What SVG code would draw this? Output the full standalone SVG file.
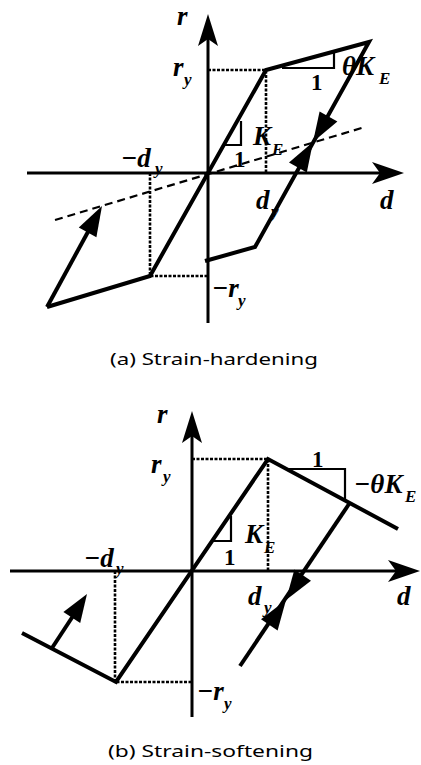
<svg xmlns="http://www.w3.org/2000/svg" width="421" height="765" viewBox="0 0 421 765">
<style>
.ax{stroke:#000;stroke-width:3;fill:none}
.cv{stroke:#000;stroke-width:4;fill:none;stroke-linejoin:miter;stroke-linecap:butt}
.dt{stroke:#000;stroke-width:2.6;fill:none;stroke-dasharray:3,1.5}
.ds{stroke:#000;stroke-width:2.2;fill:none;stroke-dasharray:8,5}
.tr{stroke:#000;stroke-width:2.2;fill:none}
.ah{fill:#000;stroke:none}
.m{font-family:"Liberation Serif","Times New Roman",serif;font-style:italic;font-weight:bold;font-size:27px;fill:#000}
.s{font-size:17px}
.n{font-family:"Liberation Serif","Times New Roman",serif;font-weight:bold;font-size:23px;fill:#000}
.cap{font-family:"Noto Sans","DejaVu Sans",sans-serif;font-size:17px;fill:#000}
</style>
<rect width="421" height="765" fill="#fff"/>

<g id="diagram-a">
  <g id="axes-a">
    <line class="ax" x1="27" y1="173" x2="398" y2="173"/>
    <path class="ah" d="M404,173 L372,162 L380,173 L372,184 Z"/>
    <line class="ax" x1="208" y1="323" x2="208" y2="22"/>
    <path class="ah" d="M208,14 L198,46 L208,39 L218,46 Z"/>
  </g>
  <g id="guides-a">
    <path class="dt" d="M208,70 H266 V173"/>
    <path class="dt" d="M150,173 V276 H208"/>
    <line class="ds" x1="55" y1="220" x2="365" y2="127"/>
    <path class="tr" d="M225,145 H241 V121"/>
    <path class="tr" d="M282,68 H334 V53"/>
  </g>
  <g id="curve-a">
    <path class="cv" d="M47,307 L150,276 L266,70 L369,42 L255,247 L205,261"/>
    <line class="cv" x1="47" y1="307" x2="89" y2="230"/>
    <path class="ah" d="M102,206 L96.4,237.2 L78.8,227.6 Z"/>
    <path class="ah" d="M313,142 L319.6,111.6 L337.4,121.4 Z"/>
    <path class="ah" d="M313,142 L306.8,172.4 L289,162.6 Z"/>
  </g>
  <g id="labels-a">
    <text class="m" x="177" y="25">r</text>
    <text class="m" x="173" y="76">r<tspan class="s" x="184" y="85">y</tspan></text>
    <text class="m" x="342" y="75">θK<tspan class="s" x="379" y="84">E</tspan></text>
    <text class="m" x="253" y="145">K<tspan class="s" x="272" y="155">E</tspan></text>
    <text class="n" x="234" y="167">1</text>
    <text class="n" x="311" y="90">1</text>
    <text class="m" x="121" y="167">−d<tspan class="s" x="155" y="174">y</tspan></text>
    <text class="m" x="256" y="209">d<tspan class="s" x="271" y="217">y</tspan></text>
    <text class="m" x="380" y="209">d</text>
    <text class="m" x="212" y="297">−r<tspan class="s" x="238" y="306">y</tspan></text>
  </g>
  <text id="caption-a" class="cap" x="110" y="365" textLength="208" lengthAdjust="spacingAndGlyphs">(a) Strain-hardening</text>
</g>

<g id="diagram-b">
  <g id="axes-b">
    <line class="ax" x1="10" y1="571" x2="414" y2="571"/>
    <path class="ah" d="M420,571 L388,560 L396,571 L388,582 Z"/>
    <line class="ax" x1="192" y1="717" x2="192" y2="418"/>
    <path class="ah" d="M192,411 L182,443 L192,436 L202,443 Z"/>
  </g>
  <g id="guides-b">
    <path class="dt" d="M192,459 H268 V571"/>
    <path class="dt" d="M115,571 V682 H192"/>
    <path class="tr" d="M213,541 H231 V516"/>
    <path class="tr" d="M287,469 H345 V499"/>
  </g>
  <g id="curve-b">
    <path class="cv" d="M22,633 L116,682 L268,459 L398,529"/>
    <line class="cv" x1="349" y1="504" x2="240" y2="666"/>
    <line class="cv" x1="52" y1="648" x2="73" y2="616"/>
    <path class="ah" d="M87,594 L80.2,622.9 L63.4,612.1 Z"/>
    <path class="ah" d="M286,600 L311,580.7 L294.4,569.5 Z"/>
    <path class="ah" d="M286,600 L277.6,630.5 L261,619.3 Z"/>
  </g>
  <g id="labels-b">
    <text class="m" x="157" y="423">r</text>
    <text class="m" x="151" y="473">r<tspan class="s" x="163" y="482">y</tspan></text>
    <text class="m" x="354" y="493">−θK<tspan class="s" x="405" y="502">E</tspan></text>
    <text class="m" x="245" y="543">K<tspan class="s" x="264" y="553">E</tspan></text>
    <text class="n" x="224" y="565">1</text>
    <text class="n" x="312" y="467">1</text>
    <text class="m" x="84" y="567">−d<tspan class="s" x="116" y="574">y</tspan></text>
    <text class="m" x="248" y="605">d<tspan class="s" x="264" y="613">y</tspan></text>
    <text class="m" x="397" y="605">d</text>
    <text class="m" x="197" y="700">−r<tspan class="s" x="224" y="709">y</tspan></text>
  </g>
  <text id="caption-b" class="cap" x="108" y="757" textLength="205" lengthAdjust="spacingAndGlyphs">(b) Strain-softening</text>
</g>
</svg>
